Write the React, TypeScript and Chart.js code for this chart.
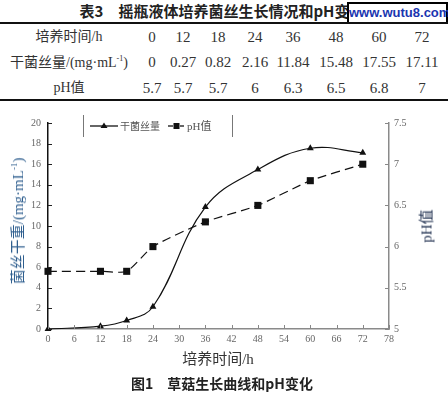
import React, { useEffect, useRef } from "react";
import { Chart, registerables } from "chart.js";

Chart.register(...registerables);

// ---- data ----
const hours = [0, 12, 18, 24, 36, 48, 60, 72];
const dryMass = [0, 0.27, 0.82, 2.16, 11.84, 15.48, 17.55, 17.11];
const phValues = [5.7, 5.7, 5.7, 6, 6.3, 6.5, 6.8, 7];
const dryMassText = ["0", "0.27", "0.82", "2.16", "11.84", "15.48", "17.55", "17.11"];
const phText = ["5.7", "5.7", "5.7", "6", "6.3", "6.5", "6.8", "7"];
const xMin = 0;
const xMax = 78;
const xStep = 6;
const leftMin = 0;
const leftMax = 20;
const leftStep = 2;
const rightMin = 5;
const rightMax = 7.5;
const rightStep = 0.5;

const seriesMassName = "干菌丝量";
const seriesPhName = "pH值";

// ---- layout (styles only) ----
const tableColX = [152, 183, 218, 255, 293, 336, 379, 422];
const labelColX = 69;
const rowY = [37, 62, 88];

const serif = '"Liberation Serif", "Noto Sans CJK SC", serif';
const sans = '"Noto Sans CJK SC", "Liberation Sans", sans-serif';

const innerTicks = {
  id: "innerTicks",
  afterDatasetsDraw(chart: any) {
    const { ctx, chartArea: a, scales } = chart;
    ctx.save();
    ctx.lineWidth = 1;
    const x = scales.x;
    ctx.strokeStyle = "#888";
    x.ticks.forEach((t: any) => {
      const px = Math.round(x.getPixelForValue(t.value)) + 0.5;
      ctx.beginPath();
      ctx.moveTo(px, a.bottom);
      ctx.lineTo(px, a.bottom - 4);
      ctx.stroke();
    });
    const y = scales.y;
    ctx.strokeStyle = "#222";
    y.ticks.forEach((t: any) => {
      const py = Math.round(y.getPixelForValue(t.value)) + 0.5;
      ctx.beginPath();
      ctx.moveTo(a.left, py);
      ctx.lineTo(a.left + 4, py);
      ctx.stroke();
    });
    const y1 = scales.y1;
    ctx.strokeStyle = "#888";
    y1.ticks.forEach((t: any) => {
      const py = Math.round(y1.getPixelForValue(t.value)) + 0.5;
      ctx.beginPath();
      ctx.moveTo(a.right, py);
      ctx.lineTo(a.right - 4, py);
      ctx.stroke();
    });
    ctx.restore();
  },
};

function ChartCanvas() {
  const ref = useRef<HTMLCanvasElement | null>(null);
  useEffect(() => {
    if (!ref.current) return;
    const tickFont = { family: '"Liberation Serif", serif', size: 10 };
    const chart = new Chart(ref.current, {
      type: "line",
      data: {
        datasets: [
          {
            label: seriesMassName,
            data: hours.map((h, i) => ({ x: h, y: dryMass[i] })),
            yAxisID: "y",
            borderColor: "#111",
            backgroundColor: "#111",
            borderWidth: 1.2,
            tension: 0.4,
            pointStyle: "triangle",
            pointRadius: 4,
            pointBorderWidth: 0,
            pointBackgroundColor: "#111",
            clip: false,
          } as any,
          {
            label: seriesPhName,
            data: hours.map((h, i) => ({ x: h, y: phValues[i] })),
            yAxisID: "y1",
            borderColor: "#111",
            backgroundColor: "#111",
            borderWidth: 1.2,
            borderDash: [9, 5],
            tension: 0.2,
            pointStyle: "rect",
            pointRadius: 5,
            pointBorderWidth: 0,
            pointBackgroundColor: "#111",
            clip: false,
          } as any,
        ],
      },
      options: {
        responsive: false,
        animation: false,
        devicePixelRatio: 1,
        layout: { padding: { top: 8, left: 0, right: 0, bottom: 0 } },
        plugins: { legend: { display: false }, tooltip: { enabled: false } },
        scales: {
          x: {
            type: "linear",
            min: xMin,
            max: xMax,
            ticks: { stepSize: xStep, font: tickFont, color: "#666", padding: 4, maxRotation: 0 },
            grid: { display: true, drawOnChartArea: false, drawTicks: false },
            border: { display: true, color: "#8a8a8a", width: 1.5 },
            afterFit: (s: any) => {
              s.height = 31;
            },
          },
          y: {
            type: "linear",
            position: "left",
            min: leftMin,
            max: leftMax,
            ticks: { stepSize: leftStep, font: tickFont, color: "#666", padding: 7 },
            grid: { display: true, drawOnChartArea: false, drawTicks: false },
            border: { display: true, color: "#111", width: 1.5 },
            afterFit: (s: any) => {
              s.width = 48;
            },
          },
          y1: {
            type: "linear",
            position: "right",
            min: rightMin,
            max: rightMax,
            ticks: {
              stepSize: rightStep,
              font: tickFont,
              color: "#666",
              padding: 5,
              callback: (v: any) => String(v),
            },
            grid: { display: true, drawOnChartArea: false, drawTicks: false },
            border: { display: true, color: "#8a8a8a", width: 1.5 },
            afterFit: (s: any) => {
              s.width = 59;
            },
          },
        },
      } as any,
      plugins: [innerTicks],
    });
    return () => chart.destroy();
  }, []);
  return <canvas ref={ref} width={448} height={250} style={{ display: "block", width: 448, height: 250 }} />;
}

const abs = (x: number, y: number, extra: React.CSSProperties = {}): React.CSSProperties => ({
  position: "absolute",
  left: x,
  top: y,
  transform: "translate(-50%, -50%)",
  whiteSpace: "nowrap",
  lineHeight: 1,
  ...extra,
});

export default function App() {
  const cell: React.CSSProperties = { fontFamily: serif, fontSize: 15, color: "#333" };
  return (
    <div
      style={{
        position: "absolute",
        left: 0,
        top: 0,
        width: 448,
        height: 394,
        background: "#fff",
        overflow: "hidden",
      }}
    >
      {/* table title */}
      <div style={abs(222, 10, { fontFamily: sans, fontWeight: 700, fontSize: 15, color: "#222" })}>
        表3　摇瓶液体培养菌丝生长情况和pH变化
      </div>
      <div
        style={{
          position: "absolute",
          left: 347,
          top: 2,
          width: 97,
          height: 18,
          border: "2px solid #000",
          background: "#fff",
          fontFamily: '"Liberation Sans", Arial, sans-serif',
          fontWeight: 700,
          fontSize: 13,
          color: "#1a35b0",
          textAlign: "center",
          lineHeight: "18px",
        }}
      >
        www.wutu8.com
      </div>
      <div style={{ position: "absolute", left: 0, top: 22, width: 448, height: 2, background: "#111" }} />
      <div style={{ position: "absolute", left: 0, top: 99, width: 448, height: 2, background: "#111" }} />
      <div style={abs(labelColX, rowY[0], { ...cell, fontSize: 14 })}>培养时间/h</div>
      <div style={abs(labelColX, rowY[1], { ...cell, fontSize: 14 })}>
        干菌丝量/(mg·mL<sup style={{ fontSize: 8, verticalAlign: "6px" }}>-1</sup>)
      </div>
      <div style={abs(labelColX, rowY[2], { ...cell, fontSize: 14 })}>pH值</div>
      {hours.map((h, i) => (
        <div key={"h" + i} style={abs(tableColX[i], rowY[0], cell)}>
          {h}
        </div>
      ))}
      {dryMassText.map((v, i) => (
        <div key={"m" + i} style={abs(tableColX[i], rowY[1], cell)}>
          {v}
        </div>
      ))}
      {phText.map((v, i) => (
        <div key={"p" + i} style={abs(tableColX[i], rowY[2], cell)}>
          {v}
        </div>
      ))}

      {/* chart */}
      <div style={{ position: "absolute", left: 0, top: 110 }}>
        <ChartCanvas />
      </div>

      {/* legend */}
      <div style={{ position: "absolute", left: 83, top: 115, width: 1, height: 22, background: "#777" }} />
      <div style={{ position: "absolute", left: 232, top: 115, width: 1, height: 22, background: "#777" }} />
      <svg style={{ position: "absolute", left: 88, top: 120 }} width={32} height={12}>
        <line x1={2} y1={6} x2={30} y2={6} stroke="#333" strokeWidth={1.5} />
        <polygon points="16,2.5 19.5,8 12.5,8" fill="#111" />
      </svg>
      <div style={{ position: "absolute", left: 120, top: 120, fontFamily: sans, fontSize: 10, color: "#555", lineHeight: "12px", whiteSpace: "nowrap" }}>
        {seriesMassName}
      </div>
      <svg style={{ position: "absolute", left: 166, top: 120 }} width={20} height={12}>
        <line x1={2} y1={6} x2={7} y2={6} stroke="#333" strokeWidth={1.5} />
        <rect x={7.5} y={3} width={6} height={6} fill="#111" />
        <line x1={14} y1={6} x2={18} y2={6} stroke="#333" strokeWidth={1.5} />
      </svg>
      <div style={{ position: "absolute", left: 187, top: 120, fontFamily: serif, fontSize: 11, color: "#555", lineHeight: "12px", whiteSpace: "nowrap" }}>
        {seriesPhName}
      </div>

      {/* axis titles */}
      <div style={abs(18, 221, { fontFamily: serif, fontSize: 15, color: "#2f5f8f", transform: "translate(-50%, -50%) rotate(-90deg)" })}>
        菌丝干重/(mg·mL<sup style={{ fontSize: 9, verticalAlign: "6px" }}>-1</sup>)
      </div>
      <div style={abs(427, 226, { fontFamily: serif, fontSize: 15, color: "#1f2f4f", transform: "translate(-50%, -50%) rotate(-90deg)" })}>
        pH值
      </div>
      <div style={abs(218, 359, { fontFamily: serif, fontSize: 15, color: "#333" })}>培养时间/h</div>
      <div style={abs(222, 383, { fontFamily: sans, fontWeight: 700, fontSize: 14, color: "#222" })}>
        图1　草菇生长曲线和pH变化
      </div>
    </div>
  );
}
